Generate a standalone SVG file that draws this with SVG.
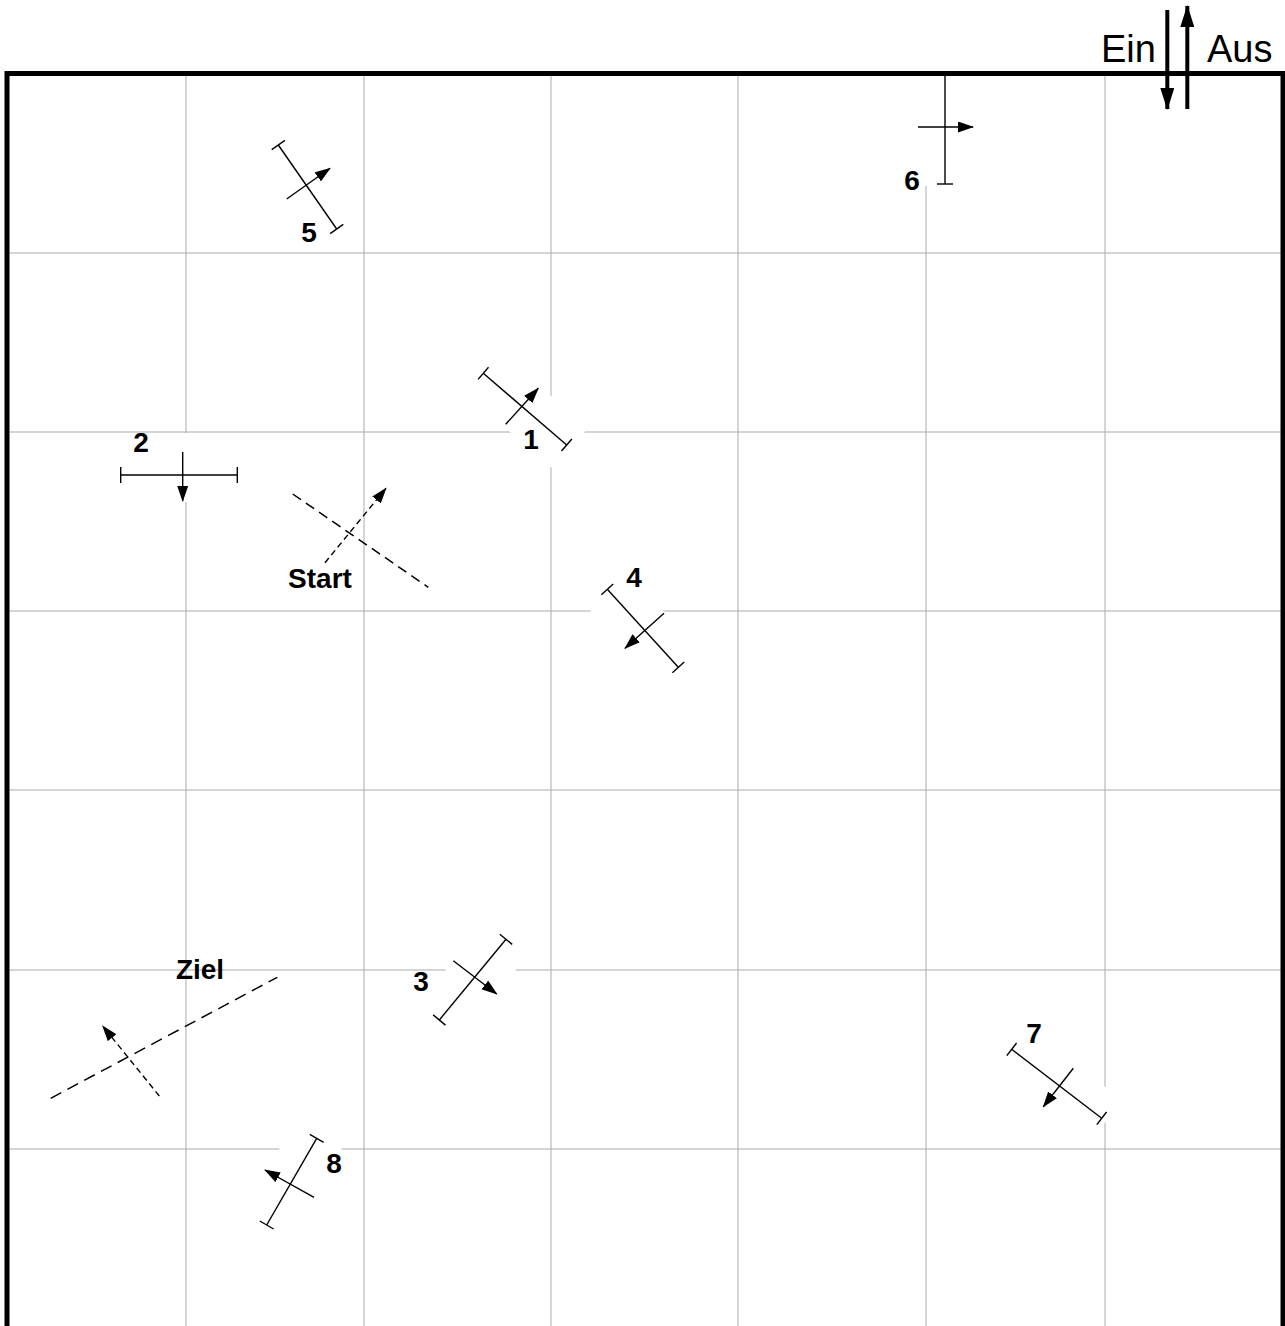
<svg xmlns="http://www.w3.org/2000/svg" width="1285" height="1326" viewBox="0 0 1285 1326">
<style>
.grid line{stroke:#ababab;stroke-width:1}
.bg{fill:#fff}
.gate{stroke:#000;stroke-width:1.4;fill:none;marker-start:url(#tk);marker-end:url(#tk)}
.arr{stroke:#000;stroke-width:1.4;fill:none;marker-end:url(#ah)}
.dl{stroke:#000;stroke-width:1.5;fill:none;stroke-dasharray:10,6}
.da{stroke:#000;stroke-width:1.4;fill:none;stroke-dasharray:6,4;marker-end:url(#ah)}
.lbl{font-family:"Liberation Sans",Arial,sans-serif;font-weight:bold;font-size:28px;text-anchor:middle;fill:#000}
.io{font-family:"Liberation Sans",Arial,sans-serif;font-size:38px;fill:#000}
.big{stroke:#000;stroke-width:4;fill:none;marker-end:url(#bh)}
</style>
<defs>
<marker id="tk" markerUnits="userSpaceOnUse" viewBox="-2 -9 4 18" markerWidth="4" markerHeight="18" refX="0" refY="0" orient="auto" overflow="visible">
<path d="M0,-8V8" stroke="#000" stroke-width="1.4"/>
</marker>
<marker id="ah" markerUnits="userSpaceOnUse" viewBox="0 0 16 11" markerWidth="16" markerHeight="11" refX="15" refY="5.5" orient="auto">
<path d="M0,0L16,5.5L0,11z" fill="#000"/>
</marker>
<marker id="bh" markerUnits="userSpaceOnUse" viewBox="0 0 22 14" markerWidth="22" markerHeight="14" refX="21" refY="7" orient="auto">
<path d="M0,0L22,7L0,14z" fill="#000"/>
</marker>
</defs>
<rect width="1285" height="1326" fill="#fff"/>
<g class="grid">
<line x1="186" y1="76" x2="186" y2="1326"/>
<line x1="364" y1="76" x2="364" y2="1326"/>
<line x1="551" y1="76" x2="551" y2="1326"/>
<line x1="738" y1="76" x2="738" y2="1326"/>
<line x1="926" y1="76" x2="926" y2="1326"/>
<line x1="1105" y1="76" x2="1105" y2="1326"/>
<line x1="9" y1="253" x2="1281" y2="253"/>
<line x1="9" y1="432" x2="1281" y2="432"/>
<line x1="9" y1="611" x2="1281" y2="611"/>
<line x1="9" y1="790" x2="1281" y2="790"/>
<line x1="9" y1="970" x2="1281" y2="970"/>
<line x1="9" y1="1149" x2="1281" y2="1149"/>
</g>
<g id="connectors"></g>
<g id="gate1">
<rect class="bg" x="-60" y="-27" width="120" height="54" transform="translate(525,409.15) rotate(40.7)"/>
<path class="gate" d="M483.3,373.3L566.7,445"/>
<path class="arr" d="M505.7,424.3L538.3,388.3"/>
<text class="lbl" x="531" y="449">1</text>
</g>
<g id="gate2">
<rect class="bg" x="116" y="433" width="126" height="69"/>
<path class="gate" d="M120.7,475L237.3,475"/>
<path class="arr" d="M182.7,452L182.7,501"/>
<text class="lbl" x="141" y="452">2</text>
</g>
<g id="gate3">
<rect class="bg" x="-57" y="-27" width="114" height="54" transform="translate(472.65,979.65) rotate(-50.4)"/>
<path class="gate" d="M439.3,1020L506,939.3"/>
<path class="arr" d="M453.3,960.7L496.7,994"/>
<text class="lbl" x="421" y="991">3</text>
</g>
<g id="gate4">
<rect class="bg" x="-58" y="-27" width="116" height="54" transform="translate(642.8,628.3) rotate(47.7)"/>
<path class="gate" d="M607.3,589.3L678.3,667.3"/>
<path class="arr" d="M664,613.3L625,648.3"/>
<text class="lbl" x="634" y="587">4</text>
</g>
<g id="gate5">
<rect class="bg" x="-56" y="-27" width="112" height="54" transform="translate(307.5,187) rotate(55.2)"/>
<path class="gate" d="M278.3,145L336.7,229"/>
<path class="arr" d="M286.7,199L330,168.3"/>
<text class="lbl" x="309" y="242">5</text>
</g>
<g id="gate6">
<rect class="bg" x="918" y="76" width="54" height="110"/>
<path class="gate" d="M945,75L945,184"/>
<path class="arr" d="M918,127L973,127"/>
<text class="lbl" x="912" y="190">6</text>
</g>
<g id="gate7">
<rect class="bg" x="-62" y="-27" width="124" height="54" transform="translate(1056.7,1083.8) rotate(37.5)"/>
<path class="gate" d="M1011.7,1049.3L1101.7,1118.3"/>
<path class="arr" d="M1073.3,1068.3L1043.3,1106.7"/>
<text class="lbl" x="1034" y="1043">7</text>
</g>
<g id="gate8">
<rect class="bg" x="-55" y="-27" width="110" height="54" transform="translate(291.7,1181.65) rotate(-60)"/>
<path class="gate" d="M316.7,1138.3L266.7,1225"/>
<path class="arr" d="M314,1197.3L265,1170"/>
<text class="lbl" x="334" y="1173">8</text>
</g>
<g id="start">
<path class="dl" d="M292.7,494L428.3,587.3"/>
<path class="da" d="M325,562.7L386,488.3"/>
<text class="lbl" x="320" y="588">Start</text>
</g>
<g id="ziel">
<path class="dl" style="stroke-dasharray:12,7" d="M50.7,1098.3L277.3,977.3"/>
<path class="da" d="M159.3,1096L102.7,1026"/>
<text class="lbl" x="200" y="979">Ziel</text>
</g>
<g id="border">
<rect x="7" y="73.5" width="1276" height="1300" fill="none" stroke="#000" stroke-width="5"/>
</g>
<g id="inout">
<text class="io" x="1101" y="62">Ein</text>
<text class="io" x="1207" y="62">Aus</text>
<path class="big" d="M1167.3,10L1167.3,109"/>
<path class="big" d="M1187.3,109L1187.3,6"/>
</g>
</svg>
